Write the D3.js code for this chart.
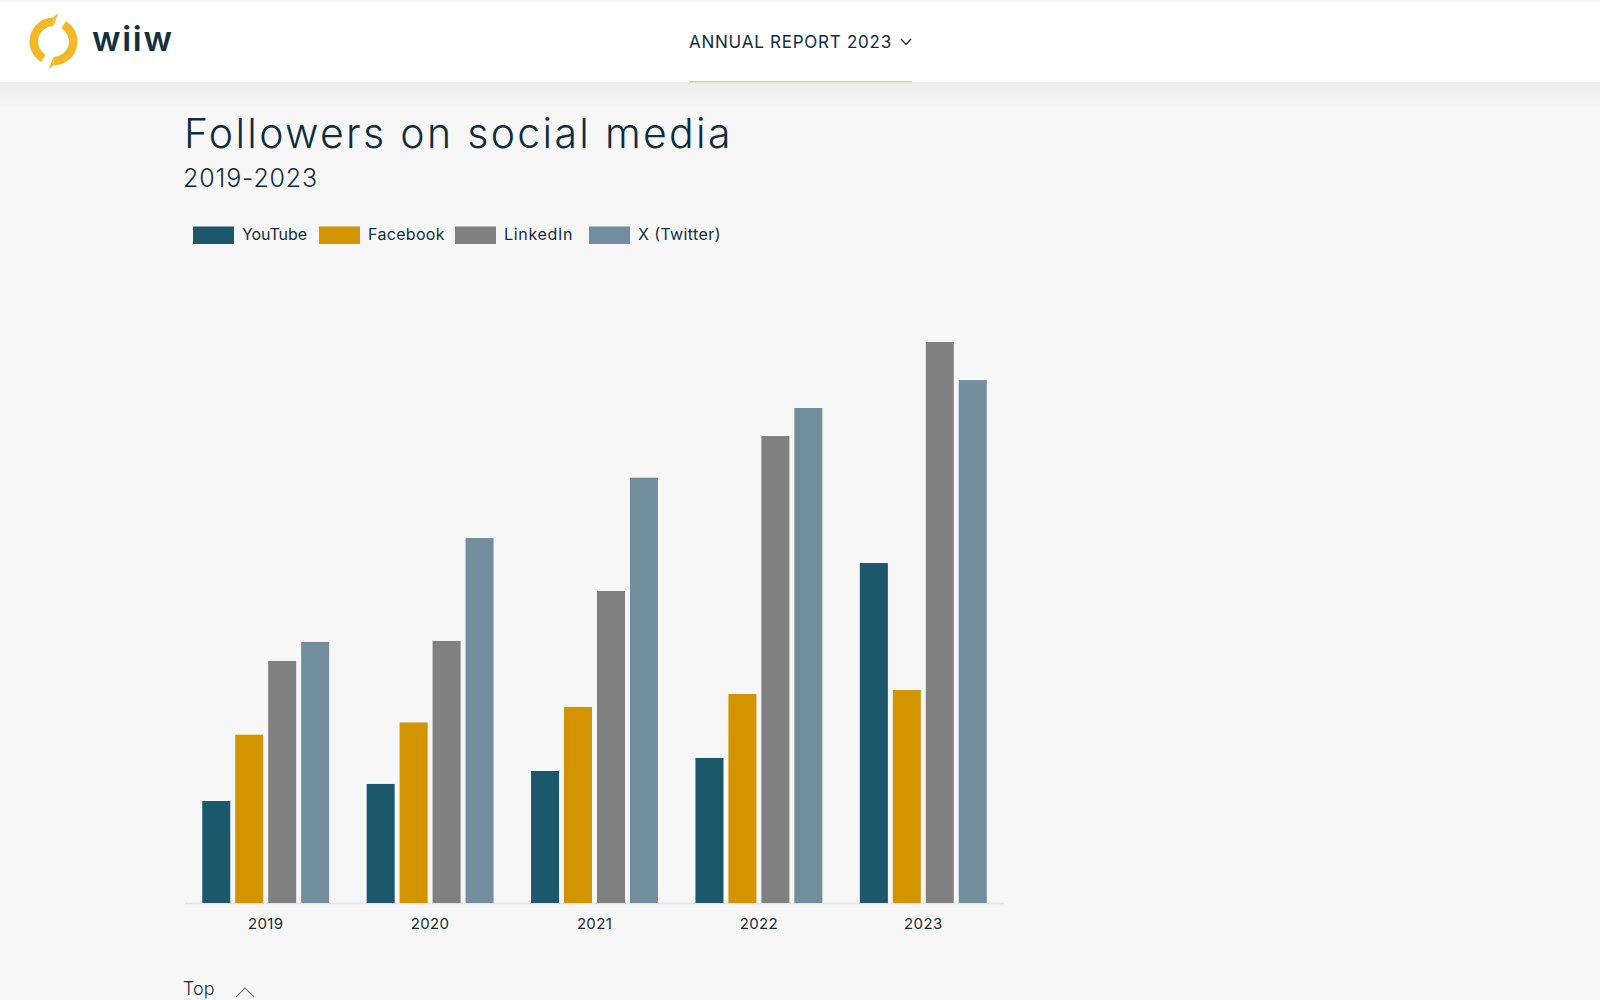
<!DOCTYPE html>
<html>
<head>
<meta charset="utf-8">
<title>Followers on social media</title>
<script src="https://cdn.jsdelivr.net/npm/d3@7"></script>
<style>
  html, body { margin: 0; padding: 0; background: #f7f7f7; overflow: hidden; }
  svg { display: block; }
  text { font-family: Inter, "Open Sans", sans-serif; fill: #0f2d3d; }
</style>
</head>
<body>
<svg></svg>
<script>
// no value axis in the original, so values are estimated from bar heights
const years = ['2019', '2020', '2021', '2022', '2023'];
const seriesNames = ['YouTube', 'Facebook', 'LinkedIn', 'X (Twitter)'];
const youtube = [1000, 1167, 1294, 1422, 3333];
const facebook = [1650, 1770, 1922, 2049, 2088];
const linkedin = [2373, 2569, 3059, 4578, 5500];
const twitter = [2559, 3578, 4170, 4853, 5127];
const colors = ['#1b586c', '#d29500', '#808080', '#728e9d'];

const seriesValues = [youtube, facebook, linkedin, twitter];

const width = 1600;
const height = 1000;
const baseline = 903;

// legend layout, the entries are not evenly spaced in the original
const legendX = [193, 319, 455, 589];
const legendTextWidth = [65, 76.5, 68.5, 82.5];

const svg = d3.select('svg').attr('width', width).attr('height', height);

// header shadow
const grad = svg.append('defs').append('linearGradient')
    .attr('id', 'shade').attr('x1', 0).attr('x2', 0).attr('y1', 0).attr('y2', 1);
grad.append('stop').attr('offset', 0).attr('stop-color', '#ececec');
grad.append('stop').attr('offset', 1).attr('stop-color', '#f7f7f7');
svg.append('rect').attr('y', 82).attr('width', width).attr('height', 26).attr('fill', 'url(#shade)');

function drawHeader () {
    svg.append('rect').attr('width', width).attr('height', 82).attr('fill', '#fff');
    svg.append('rect').attr('width', width).attr('height', 2).attr('fill', '#f4f4f4');

    const logo = svg.append('g').attr('transform', 'translate(53.5, 41.5)').attr('fill', '#f2b827');
    const ring = d3.arc().innerRadius(15.5).outerRadius(24);
    logo.append('path').attr('d', ring({ startAngle: 3.68, endAngle: 6.28 }));
    logo.append('path').attr('d', ring({ startAngle: 0.54, endAngle: 3.14 }));
    const tip = d3.line();
    logo.append('path').attr('d', tip([[0, -24], [5, -29], [0, -15.5]]) + 'Z');
    logo.append('path').attr('d', tip([[0, 24], [-5, 28], [0, 15.5]]) + 'Z');

    svg.append('text').attr('x', 92).attr('y', 51)
        .attr('font-size', 34).attr('font-weight', 600).attr('letter-spacing', 1.7)
        .style('fill', '#12303f').text('wiiw');

    svg.append('text').attr('x', 689).attr('y', 47.5)
        .attr('font-size', 17).attr('letter-spacing', 0.75)
        .text('ANNUAL REPORT 2023');

    svg.append('path').attr('d', d3.line()([[901, 39], [906, 44.5], [911, 39]]))
        .attr('fill', 'none').attr('stroke', '#0f2d3d').attr('stroke-width', 1.2);

    svg.append('rect').attr('x', 689).attr('y', 81).attr('width', 223).attr('height', 1.5)
        .attr('fill', '#e8cd85');
}

function drawTitles () {
    svg.append('text').attr('x', 184).attr('y', 148)
        .attr('font-size', 41).attr('font-weight', 350).attr('letter-spacing', 2.3)
        .text('Followers on social media');
    svg.append('text').attr('x', 183).attr('y', 187)
        .attr('font-size', 25).attr('font-weight', 350).attr('letter-spacing', 0.85)
        .text('2019-2023');
}

function drawLegend () {
    seriesNames.forEach((name, i) => {
        svg.append('rect').attr('x', legendX[i]).attr('y', 226.5).attr('width', 41).attr('height', 17.5)
            .attr('fill', colors[i]);
        svg.append('text').attr('x', legendX[i] + 49).attr('y', 240)
            .attr('font-size', 16)
            .attr('textLength', legendTextWidth[i]).attr('lengthAdjust', 'spacing')
            .text(name);
    });
}

function drawBars () {
    const xGroup = d3.scaleBand().domain(years).range([183.5, 1005.5]).paddingInner(0.228).paddingOuter(0.114);
    const xBar = d3.scaleBand().domain(seriesNames).range([0, xGroup.bandwidth()]).paddingInner(0.15);
    const yScale = d3.scaleLinear().domain([0, 6000]).range([baseline, baseline - 612]);

    const xAxis = d3.axisBottom(xGroup).tickSize(0).tickPadding(15);
    const axis = svg.append('g')
        .attr('transform', 'translate(0, ' + baseline + ')')
        .call(xAxis);
    axis.select('.domain').remove();
    axis.append('line').attr('x1', 185).attr('x2', 1004).attr('y1', 0.5).attr('y2', 0.5)
        .attr('stroke', '#e4e4e4').attr('stroke-width', 1.5);
    axis.selectAll('text')
        .attr('font-size', 15).attr('letter-spacing', 0.35)
        .style('font-family', 'Inter, sans-serif').style('fill', '#1a2a33');

    const groups = svg.append('g').selectAll('g')
        .data(years)
        .enter()
        .append('g')
        .attr('transform', d => 'translate(' + xGroup(d) + ', 0)');

    groups.selectAll('rect')
        .data((d, i) => seriesNames.map((name, s) => ({ name, color: colors[s], value: seriesValues[s][i] })))
        .enter()
        .append('rect')
        .attr('x', d => xBar(d.name))
        .attr('y', d => yScale(d.value))
        .attr('width', xBar.bandwidth())
        .attr('height', d => baseline - yScale(d.value))
        .attr('fill', d => d.color);
}

function drawFooter () {
    svg.append('text').attr('x', 183).attr('y', 995).attr('font-size', 18).attr('font-weight', 350).text('Top');
    svg.append('path').attr('d', d3.line()([[236, 997], [245, 988], [254, 997]]))
        .attr('fill', 'none').attr('stroke', '#777').attr('stroke-width', 1.1);
}

drawHeader();
drawTitles();
drawLegend();
drawBars();
drawFooter();
</script>
</body>
</html>
